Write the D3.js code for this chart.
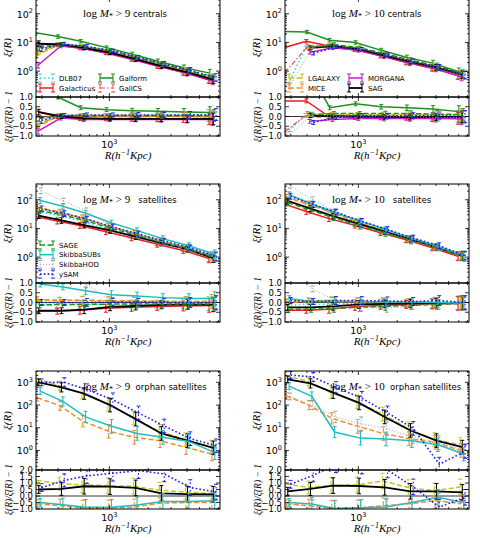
<!DOCTYPE html>
<html>
<head>
<meta charset="utf-8">
<script src="https://cdnjs.cloudflare.com/ajax/libs/d3/7.8.5/d3.min.js"></script>
<style>
  body { margin: 0; background: #fff; }
  svg { display: block; }
  text { white-space: pre; }
</style>
</head>
<body>
<div id="chart"></div>
<script>
// Projected separations (h^-1 Kpc) at which xi(R) was measured
const R = [280, 420, 630, 1000, 1580, 2500, 3980, 6310];

const models = ["DLB07", "Galacticus", "Galform", "GalICS", "LGALAXY", "MICE",
  "MORGANA", "SAG", "SAGE", "SkibbaSUBs", "SkibbaHOD", "ySAM"];
const modelColors = ["#2ad8d8", "#ee1c1c", "#1f8f1f", "#f05050", "#c4c41c", "#f28c28",
  "#c21fc2", "#000000", "#1f8f1f", "#1fbdbd", "#9a9a9a", "#1c1cee"];
const modelDash = ["1.5,2.5", null, null, "5,2,1.5,2", "5,2.5", "5,2.5",
  null, null, "5,2.5", null, "1,2", "1.6,2.2"];
const modelWidth = [1.5, 1.5, 1.5, 1.2, 1.5, 1.5, 1.5, 1.8, 1.5, 1.5, 0.9, 1.6];

// ---- log M* > 9 centrals
const cen9Xi = {
  DLB07: [5, 8.2, 7, 4.9, 2.9, 1.7, 1.0, 0.55],
  Galacticus: [9.5, 8.2, 6.4, 4.3, 2.6, 1.5, 0.9, 0.5],
  Galform: [22, 16, 11, 6.6, 3.9, 2.2, 1.3, 0.85],
  GalICS: [7, 8.5, 7, 4.8, 2.9, 1.7, 1.0, 0.55],
  LGALAXY: [3.5, 8.5, 7.2, 5, 3, 1.75, 1.05, 0.58],
  MICE: [4.5, 8.3, 6.9, 4.8, 2.8, 1.65, 0.97, 0.54],
  MORGANA: [1.6, 7.5, 6.2, 4.2, 2.5, 1.45, 0.85, 0.45],
  SAG: [9, 8.5, 6.5, 4.4, 2.6, 1.5, 0.9, 0.5],
  SAGE: [6.5, 8.5, 7.2, 5, 3, 1.75, 1.05, 0.58],
  ySAM: [6, 8.8, 7.3, 5.1, 3, 1.8, 1.05, 0.6]
};
const cen9Ratio = {
  DLB07: [-0.3, 0.0, 0.03, 0.05, 0.05, 0.05, 0.05, 0.05],
  Galacticus: [0.3, 0.0, -0.1, -0.12, -0.12, -0.12, -0.12, -0.12],
  Galform: [2.0, 1.0, 0.45, 0.35, 0.3, 0.27, 0.23, 0.2],
  GalICS: [-0.05, 0.05, 0.02, 0.03, 0.0, 0.0, 0.02, -0.02],
  LGALAXY: [-0.55, 0.05, 0.05, 0.05, 0.05, 0.05, 0.05, 0.03],
  MICE: [-0.4, 0.02, 0.0, 0.0, -0.02, 0.0, 0.0, -0.03],
  MORGANA: [-0.75, -0.08, -0.15, -0.15, -0.15, -0.15, -0.15, -0.15],
  SAG: [0.22, 0.0, -0.08, -0.12, -0.12, -0.12, -0.12, -0.12],
  SAGE: [-0.1, 0.05, 0.05, 0.05, 0.05, 0.05, 0.05, 0.05],
  ySAM: [-0.2, 0.05, 0.08, 0.08, 0.08, 0.08, 0.08, 0.1]
};

// ---- log M* > 10 centrals
const cen10Xi = {
  DLB07: [0.15, 6.5, 7.5, 5.8, 3.6, 2.1, 1.35, 0.72],
  Galacticus: [6.5, 11, 7.5, 5.5, 3.4, 2.0, 1.25, 0.7],
  Galform: [24, 23, 12, 10, 5.3, 3.0, 1.9, 0.95],
  GalICS: [0.9, 7.2, 7.8, 6, 3.7, 2.2, 1.4, 0.75],
  LGALAXY: [null, 6.8, 8.2, 6.3, 3.9, 2.3, 1.45, 0.8],
  MICE: [null, 6.0, 7.4, 5.7, 3.5, 2.1, 1.3, 0.72],
  MORGANA: [null, 4.5, 6.5, 5.3, 3.2, 1.9, 1.2, 0.62],
  SAG: [null, 6.5, 7.5, 5.8, 3.5, 2.1, 1.35, 0.75],
  SAGE: [null, 6.8, 8.5, 6.5, 4.0, 2.4, 1.5, 0.82],
  SkibbaHOD: [0.3, 7, 7.5, 5.7, 3.5, 2.1, 1.3, 0.72],
  ySAM: [null, 4.2, 7.0, 5.8, 3.6, 2.2, 1.35, 0.72]
};
const cen10Ratio = {
  DLB07: [-0.97, 0.05, 0.0, 0.0, 0.0, 0.0, 0.0, 0.0],
  Galacticus: [0.8, 0.8, 0.0, -0.05, -0.05, -0.05, -0.08, -0.1],
  Galform: [5.0, 2.6, 0.45, 0.65, 0.5, 0.45, 0.38, 0.25],
  GalICS: [-0.78, 0.15, 0.03, 0.02, 0.02, 0.02, 0.0, -0.02],
  LGALAXY: [null, 0.1, 0.1, 0.1, 0.1, 0.1, 0.08, 0.1],
  MICE: [null, -0.05, 0.0, -0.03, -0.03, -0.03, -0.05, -0.05],
  MORGANA: [null, -0.25, -0.15, -0.1, -0.1, -0.1, -0.1, -0.12],
  SAG: [null, 0.05, 0.02, 0.0, -0.02, -0.03, -0.02, -0.02],
  SAGE: [null, 0.1, 0.15, 0.15, 0.15, 0.15, 0.12, 0.1],
  SkibbaHOD: [-0.92, 0.12, 0.0, -0.02, -0.02, -0.02, -0.05, -0.05],
  ySAM: [null, -0.3, -0.05, 0.05, 0.03, 0.05, 0.05, 0.0]
};

// ---- log M* > 9 satellites
const sat9Xi = {
  DLB07: [42, 29, 19, 9.9, 5.8, 3.2, 2.0, 0.99],
  Galacticus: [26, 18, 12.6, 7.7, 4.7, 2.8, 1.7, 0.9],
  LGALAXY: [54, 36, 23, 11.9, 6.7, 3.7, 2.2, 1.1],
  MICE: [55, 37, 23.5, 12.1, 6.8, 3.7, 2.2, 1.1],
  SAG: [28, 19, 13, 8.6, 5.2, 3.1, 1.9, 0.92],
  SAGE: [42, 30, 19, 10.1, 5.8, 3.2, 1.9, 0.97],
  SkibbaSUBs: [94, 59, 34, 15.4, 8.4, 4.4, 2.5, 1.26],
  SkibbaHOD: [206, 89, 41, 11.5, 6.3, 3.4, 2.1, 1.0],
  ySAM: [48, 33, 21, 11.2, 6.4, 3.6, 2.1, 1.05]
};
const sat9Ratio = {
  DLB07: [-0.12, -0.12, -0.1, -0.1, -0.08, -0.08, -0.06, -0.06],
  Galacticus: [-0.45, -0.45, -0.4, -0.3, -0.25, -0.2, -0.18, -0.15],
  LGALAXY: [0.12, 0.1, 0.1, 0.08, 0.07, 0.05, 0.05, 0.05],
  MICE: [0.15, 0.12, 0.12, 0.1, 0.08, 0.06, 0.05, 0.05],
  SAG: [-0.42, -0.42, -0.37, -0.22, -0.18, -0.12, -0.1, -0.12],
  SAGE: [-0.12, -0.1, -0.1, -0.08, -0.08, -0.08, -0.08, -0.08],
  SkibbaSUBs: [0.95, 0.8, 0.6, 0.4, 0.33, 0.25, 0.2, 0.2],
  SkibbaHOD: [3.3, 1.7, 0.95, 0.05, 0.0, -0.02, 0.0, -0.05],
  ySAM: [0.0, 0.0, 0.0, 0.02, 0.02, 0.02, 0.0, 0.0]
};

// ---- log M* > 10 satellites
const sat10Xi = {
  DLB07: [103, 58, 31, 15, 8.0, 4.2, 2.2, 1.1],
  Galacticus: [73, 39, 22, 13, 7.1, 4.0, 2.1, 1.06],
  LGALAXY: [127, 72, 37, 17, 8.8, 4.4, 2.35, 1.12],
  MICE: [121, 68, 36, 16.3, 8.4, 4.4, 2.3, 1.12],
  SAG: [91, 49, 27, 14.5, 7.8, 4.2, 2.2, 1.1],
  SAGE: [79, 42, 24, 12, 6.7, 3.7, 2.1, 1.06],
  SkibbaSUBs: [150, 72, 36, 18, 9, 4.6, 2.4, 1.15],
  SkibbaHOD: [320, 100, 38, 12, 7.2, 4, 2.1, 1.0],
  ySAM: [133, 68, 37, 17.6, 9.1, 4.6, 2.5, 1.12]
};
const sat10Ratio = {
  DLB07: [-0.15, -0.1, -0.08, -0.06, -0.05, -0.05, -0.05, -0.02],
  Galacticus: [-0.4, -0.4, -0.35, -0.2, -0.15, -0.1, -0.08, -0.05],
  LGALAXY: [0.05, 0.1, 0.1, 0.05, 0.05, 0.0, 0.02, 0.0],
  MICE: [0.0, 0.05, 0.05, 0.02, 0.0, 0.0, 0.0, 0.0],
  SAG: [-0.25, -0.25, -0.2, -0.1, -0.07, -0.05, -0.03, -0.02],
  SAGE: [-0.35, -0.35, -0.3, -0.25, -0.2, -0.15, -0.1, -0.05],
  SkibbaSUBs: [0.2, 0.05, 0.05, 0.05, 0.02, 0.02, 0.0, -0.02],
  SkibbaHOD: [1.6, 0.7, 0.1, -0.25, -0.3, -0.15, -0.1, -0.05],
  ySAM: [0.1, 0.05, 0.1, 0.1, 0.08, 0.05, 0.1, 0.0]
};

// ---- log M* > 9 orphan satellites
const orph9Xi = {
  LGALAXY: [1500, 700, 330, 110, 27, 7, 3, 1.4],
  MICE: [210, 93, 19.5, 7, 3.8, 2.7, 1.35, 0.7],
  SAG: [1000, 600, 320, 100, 24, 5.6, 2.7, 1.3],
  SkibbaSUBs: [410, 145, 30, 11.6, 5.6, 3.8, 2.5, 0.8],
  ySAM: [1000, 1000, 480, 170, 45, 12, 3.3, 1.6]
};
const orph9Ratio = {
  LGALAXY: [1.2, 0.95, 0.85, 0.8, 0.75, 0.45, 0.3, 0.2],
  MICE: [-0.6, -0.75, -0.93, -0.92, -0.85, -0.55, -0.5, -0.5],
  SAG: [0.5, 0.55, 0.75, 0.72, 0.62, 0.2, 0.15, 0.13],
  SkibbaSUBs: [-0.5, -0.67, -0.87, -0.87, -0.7, -0.42, -0.42, -0.37],
  ySAM: [0.65, 1.2, 1.55, 1.75, 1.95, 1.7, 0.65, 0.3]
};

// ---- log M* > 10 orphan satellites
const orph10Xi = {
  LGALAXY: [2000, 1100, 350, 140, 40, 9, 3, 1.8],
  MICE: [250, 100, 26, 11.5, 5.6, 3.3, 2.3, 1.0],
  SAG: [1350, 900, 350, 125, 30, 7.6, 2.7, 1.4],
  SkibbaSUBs: [680, 240, 6.5, 3.5, 3.2, 2.7, 1.8, 0.7],
  SkibbaHOD: [240, 100, 30, 15, 9, 4, 2.2, 1.0],
  ySAM: [2100, 1700, 600, 200, 45, 9.4, 0.25, 0.9]
};
const orph10Ratio = {
  LGALAXY: [0.95, 0.65, 0.8, 0.85, 1.15, 0.65, 0.4, 0.7],
  MICE: [-0.6, -0.75, -0.95, -0.92, -0.75, -0.6, -0.35, -0.6],
  SAG: [0.36, 0.54, 0.8, 0.77, 0.67, 0.36, 0.36, 0.28],
  SkibbaSUBs: [-0.5, -0.62, -0.97, -0.9, -0.85, -0.5, -0.1, -0.5],
  SkibbaHOD: [-0.65, -0.8, -0.93, -0.88, -0.78, -0.55, -0.4, -0.55],
  ySAM: [0.9, 1.6, 2.4, 2.3, 2.0, 0.7, -0.85, -0.1]
};

// error bar half-sizes (dex in xi, absolute in ratio)
const cenErrDex = [0.1, 0.06, 0.06, 0.06, 0.07, 0.08, 0.1, 0.13];
const cenErrRatio = [0.15, 0.1, 0.1, 0.1, 0.12, 0.14, 0.18, 0.3];
const satErrDex = [0.1, 0.1, 0.1, 0.1, 0.1, 0.1, 0.1, 0.15];
const satErrRatio = [0.15, 0.15, 0.2, 0.2, 0.2, 0.2, 0.25, 0.35];
const orphErrDex = [0.15, 0.2, 0.25, 0.3, 0.3, 0.3, 0.3, 0.3];
const orphErrRatio = [0.3, 0.5, 0.6, 0.6, 0.6, 0.6, 0.6, 0.6];

// Basic set up
const width = 480, height = 538;
const colX = [36, 285], panelW = 184;
const rowTop = [-2, 184, 371], mainH = 99, ratioH = 39;
const serif = "'Liberation Serif', 'DejaVu Serif', serif";
const tickFont = 9.5, ratioTickFont = 8.5;

const svg = d3.select("#chart").append("svg")
  .attr("width", width)
  .attr("height", height)
  .style("font-family", "'DejaVu Sans', sans-serif");
svg.append("rect").attr("width", width).attr("height", height).attr("fill", "#fff");
const defs = svg.append("defs");

const panels = [
  {col: 0, row: 0, xi: cen9Xi, ratio: cen9Ratio, errDex: cenErrDex, errRatio: cenErrRatio,
    mass: "9", label: " centrals", yDom: [0.125, 355], rDom: [-1, 1],
    legend: [["DLB07", "Galacticus"], ["Galform", "GalICS"]]},
  {col: 1, row: 0, xi: cen10Xi, ratio: cen10Ratio, errDex: cenErrDex, errRatio: cenErrRatio,
    mass: "10", label: " centrals", yDom: [0.125, 355], rDom: [-1, 1],
    legend: [["LGALAXY", "MICE"], ["MORGANA", "SAG"]]},
  {col: 0, row: 1, xi: sat9Xi, ratio: sat9Ratio, errDex: satErrDex, errRatio: satErrRatio,
    mass: "9", label: "   satellites", yDom: [0.125, 355], rDom: [-1, 1],
    legend: [["SAGE", "SkibbaSUBs", "SkibbaHOD", "ySAM"]]},
  {col: 1, row: 1, xi: sat10Xi, ratio: sat10Ratio, errDex: satErrDex, errRatio: satErrRatio,
    mass: "10", label: "   satellites", yDom: [0.125, 355], rDom: [-1, 1], legend: []},
  {col: 0, row: 2, xi: orph9Xi, ratio: orph9Ratio, errDex: orphErrDex, errRatio: orphErrRatio,
    mass: "9", label: "  orphan satellites", yDom: [0.138, 3160], rDom: [-1, 2], legend: []},
  {col: 1, row: 2, xi: orph10Xi, ratio: orph10Ratio, errDex: orphErrDex, errRatio: orphErrRatio,
    mass: "10", label: "  orphan satellites", yDom: [0.138, 3160], rDom: [-1, 2], legend: []}
];

function styleLine(sel, i, w) {
  return sel.attr("fill", "none")
    .attr("stroke", modelColors[i])
    .attr("stroke-width", w || modelWidth[i])
    .attr("stroke-dasharray", modelDash[i]);
}

function errorBar(g, i, xp, y1, y2) {
  styleLine(g.append("line"), i, 1.1).attr("x1", xp).attr("x2", xp).attr("y1", y1).attr("y2", y2);
  [y1, y2].forEach((yy) => {
    g.append("line").attr("x1", xp - 2).attr("x2", xp + 2).attr("y1", yy).attr("y2", yy)
      .attr("stroke", modelColors[i]).attr("stroke-width", 1);
  });
}

panels.forEach((p, pi) => {
  const x0 = colX[p.col], top = rowTop[p.row];
  const mBot = top + mainH, rBot = mBot + ratioH;

  const x = d3.scaleLog().domain([270, 7200]).range([x0, x0 + panelW]);
  const y = d3.scaleLog().domain(p.yDom).range([mBot, top]);
  const yr = d3.scaleLinear().domain(p.rDom).range([rBot, mBot]);

  defs.append("clipPath").attr("id", "cm" + pi).append("rect")
    .attr("x", x0).attr("y", top).attr("width", panelW).attr("height", mainH);
  defs.append("clipPath").attr("id", "cr" + pi).append("rect")
    .attr("x", x0).attr("y", mBot).attr("width", panelW).attr("height", ratioH);

  const gMain = svg.append("g").attr("clip-path", "url(#cm" + pi + ")");
  const gRat = svg.append("g").attr("clip-path", "url(#cr" + pi + ")");

  // zero line in ratio panel
  gRat.append("line").attr("x1", x0).attr("x2", x0 + panelW)
    .attr("y1", yr(0)).attr("y2", yr(0)).attr("stroke", "#000").attr("stroke-width", 0.8);

  // series
  models.forEach((m, i) => {
    const vals = p.xi[m];
    if (!vals) return;
    const rat = p.ratio[m];
    const dx = (i - 6) * 0.7;
    const pts = R.map((r, k) => ({r, v: vals[k], q: rat[k], k})).filter((d) => d.v != null);

    styleLine(gMain.append("path"), i)
      .attr("d", d3.line().x((d) => x(d.r) + dx).y((d) => y(d.v))(pts));
    styleLine(gRat.append("path"), i)
      .attr("d", d3.line().x((d) => x(d.r) + dx).y((d) => yr(d.q))(pts));

    pts.forEach((d) => {
      const e = p.errDex[d.k];
      errorBar(gMain, i, x(d.r) + dx, y(d.v * Math.pow(10, -e)), y(d.v * Math.pow(10, e)));
      const er = p.errRatio[d.k];
      errorBar(gRat, i, x(d.r) + dx, yr(d.q - er), yr(d.q + er));
    });
  });

  // frames
  [[top, mainH], [mBot, ratioH]].forEach(([yy, hh]) => {
    svg.append("rect").attr("x", x0).attr("y", yy).attr("width", panelW).attr("height", hh)
      .attr("fill", "none").attr("stroke", "#000").attr("stroke-width", 1);
  });

  // x ticks (top and bottom of both sub-panels)
  const xTicks = [];
  [100, 1000].forEach((dec) => {
    for (let k = 1; k <= 9; k++) {
      const v = k * dec;
      if (v > 270 && v < 7200) xTicks.push({v, major: k === 1});
    }
  });
  const axes = svg.append("g").attr("stroke", "#000").attr("stroke-width", 0.8);
  xTicks.forEach((t) => {
    const xp = x(t.v), len = t.major ? 4 : 2;
    [[top, 1], [mBot, -1], [mBot, 1], [rBot, -1]].forEach(([yy, dir]) => {
      axes.append("line").attr("x1", xp).attr("x2", xp).attr("y1", yy).attr("y2", yy + dir * len);
    });
  });

  // y ticks main (log)
  const lo = Math.floor(Math.log10(p.yDom[0])), hi = Math.ceil(Math.log10(p.yDom[1]));
  for (let dcd = lo; dcd <= hi; dcd++) {
    for (let k = 1; k <= 9; k++) {
      const v = k * Math.pow(10, dcd);
      if (v < p.yDom[0] || v > p.yDom[1]) continue;
      const yp = y(v), len = k === 1 ? 4 : 2;
      axes.append("line").attr("x1", x0).attr("x2", x0 + len).attr("y1", yp).attr("y2", yp);
      axes.append("line").attr("x1", x0 + panelW).attr("x2", x0 + panelW - len).attr("y1", yp).attr("y2", yp);
      if (k === 1) {
        const t = svg.append("text").attr("x", x0 - 3).attr("y", yp + 4)
          .attr("text-anchor", "end").attr("font-size", tickFont);
        t.append("tspan").text("10");
        t.append("tspan").attr("dy", -4.5).attr("font-size", 6.5).text(String(dcd));
      }
    }
  }

  // y ticks ratio
  d3.range(p.rDom[0], p.rDom[1] + 0.01, 0.5).forEach((v) => {
    const yp = yr(v);
    axes.append("line").attr("x1", x0).attr("x2", x0 + 4).attr("y1", yp).attr("y2", yp);
    axes.append("line").attr("x1", x0 + panelW).attr("x2", x0 + panelW - 4).attr("y1", yp).attr("y2", yp);
    svg.append("text").attr("x", x0 - 3).attr("y", yp + 3.2)
      .attr("text-anchor", "end").attr("font-size", ratioTickFont)
      .text(d3.format(".1f")(v));
  });

  // x tick label 10^3
  const xl = svg.append("text").attr("x", x(1000)).attr("y", rBot + 12)
    .attr("text-anchor", "middle").attr("font-size", tickFont);
  xl.append("tspan").text("10");
  xl.append("tspan").attr("dy", -4.5).attr("font-size", 6.5).text("3");

  // x axis label
  const xlab = svg.append("text").attr("x", x0 + panelW / 2).attr("y", rBot + 23)
    .attr("text-anchor", "middle").attr("font-size", 11)
    .attr("font-family", serif).attr("font-style", "italic");
  xlab.append("tspan").text("R(h");
  xlab.append("tspan").attr("dy", -4).attr("font-size", 8).text("\u22121");
  xlab.append("tspan").attr("dy", 4).text("Kpc)");

  // y axis labels
  svg.append("text")
    .attr("transform", "translate(" + (x0 - 25) + "," + (top + mainH / 2) + ") rotate(-90)")
    .attr("text-anchor", "middle").attr("font-size", 11)
    .attr("font-family", serif).attr("font-style", "italic")
    .text("\u03BE(R)");
  svg.append("text")
    .attr("transform", "translate(" + (x0 - 24) + "," + (mBot + ratioH / 2) + ") rotate(-90)")
    .attr("text-anchor", "middle").attr("font-size", 9.5)
    .attr("font-family", serif).attr("font-style", "italic")
    .text("\u03BE(R)/\u03BE\u0304(R) \u2212 1");

  // panel title
  const title = svg.append("text").attr("x", x0 + 47).attr("y", top + 19).attr("font-size", 11);
  title.append("tspan").attr("font-family", serif).text("log ");
  title.append("tspan").attr("font-family", serif).attr("font-style", "italic").text("M");
  title.append("tspan").attr("font-family", serif).attr("font-size", 8).attr("dy", 2).text("*");
  title.append("tspan").attr("font-family", serif).attr("dy", -2).text(" > " + p.mass);
  title.append("tspan").attr("font-size", 8.5).text(p.label);

  // legend
  const legStart = p.legend.length === 1 ? 61 : 80;
  const legStep = p.legend.length === 1 ? 9.7 : 10;
  p.legend.forEach((colNames, ci) => {
    colNames.forEach((name, ri) => {
      const i = models.indexOf(name);
      const ly = top + legStart + ri * legStep;
      const sx = x0 + 4 + ci * 60;
      styleLine(svg.append("line"), i).attr("x1", sx).attr("x2", sx + 13).attr("y1", ly).attr("y2", ly);
      errorBar(svg, i, sx, ly - 4, ly + 4);
      errorBar(svg, i, sx + 13, ly - 4, ly + 4);
      svg.append("text").attr("x", sx + 19).attr("y", ly + 2.5).attr("font-size", 7)
        .text(name);
    });
  });
});
</script>
</body>
</html>
